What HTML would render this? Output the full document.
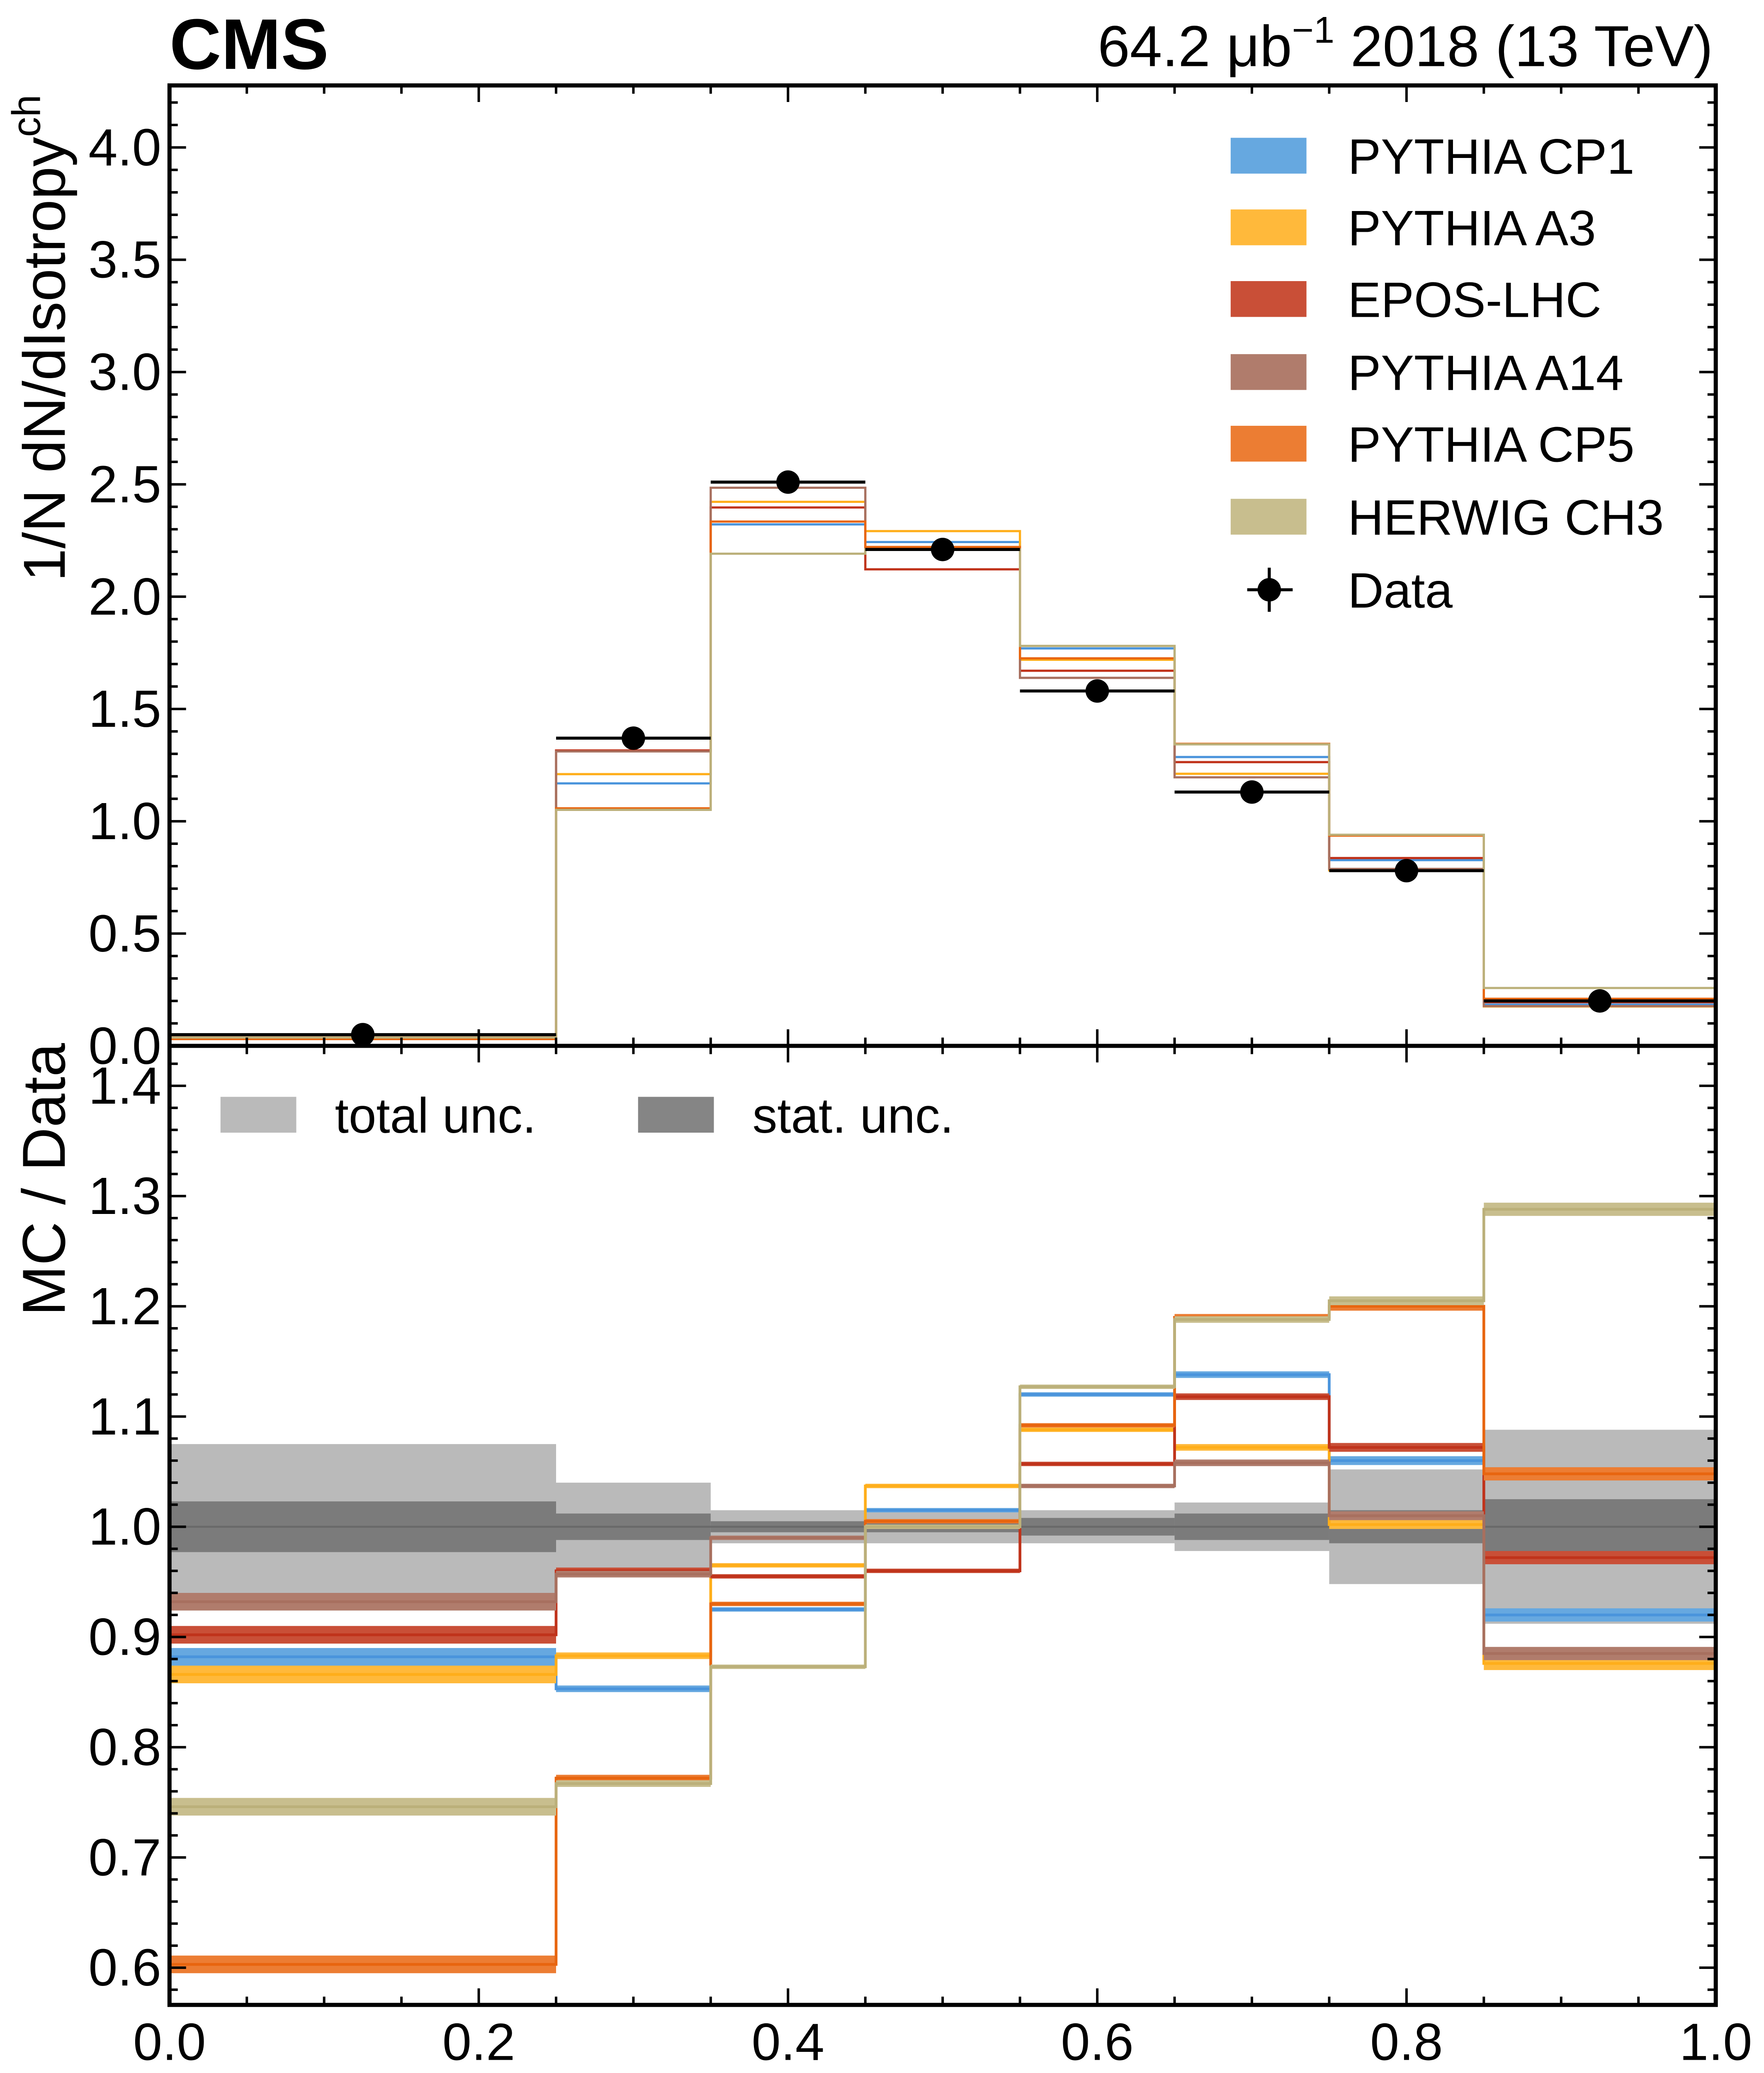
<!DOCTYPE html>
<html><head><meta charset="utf-8"><style>
html,body{margin:0;padding:0;background:#fff;overflow:hidden;width:4254px;height:5198px}
svg{display:block}
text{font-family:"Liberation Sans","DejaVu Sans",sans-serif;fill:#000}
</style></head><body>
<svg id="chart" width="4254" height="5198" xmlns="http://www.w3.org/2000/svg">
<g id="main" transform="scale(3.32344,3.32353)"></g>
</svg>
<script>
const binEdges=[0,0.25,0.35,0.45,0.55,0.65,0.75,0.85,1.0];
const dataVals=[0.05,1.37,2.51,2.21,1.58,1.13,0.78,0.20];
const totUnc=[0.075,0.04,0.015,0.015,0.015,0.022,0.052,0.088];
const statUnc=[0.023,0.012,0.005,0.005,0.008,0.012,0.015,0.025];
const mcBand=[0.008,0.003,0.002,0.002,0.002,0.003,0.004,0.006];
const modelNames=["PYTHIA CP1","PYTHIA A3","EPOS-LHC","PYTHIA A14","PYTHIA CP5","HERWIG CH3"];
const modelColors=["#4a94dc","#ffae1a","#c0331b","#a8705f","#e8650f","#bbb07a"];
const bandColors=["#66a8e0","#ffb93b","#c94f37","#b07c6c","#ec7d33","#c8be8e"];
const ratioCP1=[0.882,0.853,0.925,1.015,1.12,1.138,1.06,0.92];
const ratioA3=[0.866,0.883,0.965,1.037,1.088,1.072,1.002,0.876];
const ratioEPOS=[0.902,0.96,0.955,0.96,1.057,1.118,1.072,0.972];
const ratioA14=[0.932,0.957,0.99,1.0,1.037,1.058,1.01,0.885];
const ratioCP5=[0.603,0.772,0.93,1.005,1.092,1.19,1.2,1.048];
const ratioCH3=[0.746,0.767,0.873,1.0,1.127,1.188,1.205,1.288];
const ratios=[ratioCP1,ratioA3,ratioEPOS,ratioA14,ratioCP5,ratioCH3];
const topTicks=[0.0,0.5,1.0,1.5,2.0,2.5,3.0,3.5,4.0];
const botTicks=[0.6,0.7,0.8,0.9,1.0,1.1,1.2,1.3,1.4];
const xTicks=[0.0,0.2,0.4,0.6,0.8,1.0];

const NS="http://www.w3.org/2000/svg";
const root=document.getElementById('main');
const L=123,R=1245,T=62,M=759,B=1455;
const X=v=>L+(R-L)*v;
const YT=v=>M-163*v;
const YB=v=>1108-800*(v-1);
function el(tag,attrs,parent){const e=document.createElementNS(NS,tag);for(const k in attrs)e.setAttribute(k,attrs[k]);(parent||root).appendChild(e);return e;}

const clipDefs=el('defs',{});
const c1=el('clipPath',{id:'cTop'},clipDefs);el('rect',{x:L,y:T,width:R-L,height:M-T},c1);
const c2=el('clipPath',{id:'cBot'},clipDefs);el('rect',{x:L,y:M,width:R-L,height:B-M},c2);
const gTop=el('g',{'clip-path':'url(#cTop)'});


const gBot=el('g',{'clip-path':'url(#cBot)'});



for(let i=0;i<8;i++){
  const x0=X(binEdges[i]),x1=X(binEdges[i+1]);
  const r1=el('rect',{x:x0,y:YB(1+totUnc[i]),width:x1-x0,height:YB(1-totUnc[i])-YB(1+totUnc[i]),fill:'#bababa'},gBot);
  
  
  const r2=el('rect',{x:x0,y:YB(1+statUnc[i]),width:x1-x0,height:YB(1-statUnc[i])-YB(1+statUnc[i]),fill:'#7b7b7b'},gBot);
  
  
}
el('line',{x1:L,x2:R,y1:YB(1),y2:YB(1),stroke:'#6a6a6a','stroke-width':1.5},gBot);

function stepPath(vals,Y){
  let d='';
  for(let i=0;i<8;i++){
    const x0=X(binEdges[i]),x1=X(binEdges[i+1]),y=Y(vals[i]);
    d+=(i===0?'M':'L')+x0+' '+y+' L'+x1+' '+y+' ';
  }
  return d;
}
for(let m=0;m<6;m++){
  const r=ratios[m];
  const top=r.map((v,i)=>v*dataVals[i]);
  for(let i=0;i<8;i++){
    const x0=X(binEdges[i]),x1=X(binEdges[i+1]);
    const b=el('rect',{x:x0,y:YB(r[i]+mcBand[i]),width:x1-x0,height:YB(r[i]-mcBand[i])-YB(r[i]+mcBand[i]),fill:bandColors[m]},gBot);
    
    
  }
  const p1=el('path',{d:stepPath(r,YB),fill:'none',stroke:modelColors[m],'stroke-width':2},gBot);
  
  
  const p2=el('path',{d:stepPath(top,YT),fill:'none',stroke:modelColors[m],'stroke-width':1.6},gTop);
  
  
}
for(let i=0;i<8;i++){
  const x0=X(binEdges[i]),x1=X(binEdges[i+1]);
  const xc=i===0?X(0.125):(i===7?X(0.925):(x0+x1)/2);
  const y=YT(dataVals[i]);
  el('line',{x1:x0,x2:x1,y1:y,y2:y,stroke:'#000','stroke-width':2.2},gTop);
  const c=el('circle',{cx:xc,cy:y,r:8.5,fill:'#000'},gTop);
  
  
}

el('rect',{x:L,y:T,width:R-L,height:B-T,fill:'none',stroke:'#000','stroke-width':3});
el('line',{x1:L,x2:R,y1:M,y2:M,stroke:'#000','stroke-width':3});

function tk(x1,y1,x2,y2){el('line',{x1,y1,x2,y2,stroke:'#000','stroke-width':1.8});}
for(let v=0;v<=4.25;v+=0.1){const y=YT(v);const maj=Math.abs(v*2-Math.round(v*2))<1e-6;const l=maj?12:6;tk(L,y,L+l,y);tk(R,y,R-l,y);}
for(let v=0.58;v<=1.43;v+=0.02){const y=YB(v);const maj=Math.abs(v*10-Math.round(v*10))<1e-6;const l=maj?12:6;tk(L,y,L+l,y);tk(R,y,R-l,y);}
for(let v=0;v<=1.0001;v+=0.05){const x=X(v);const maj=Math.abs(v*5-Math.round(v*5))<1e-6;const l=maj?12:6;tk(x,M,x,M-l);tk(x,T,x,T+l);tk(x,B,x,B-l);tk(x,M,x,M+l);}

topTicks.forEach(v=>{const t=el('text',{x:L-6,y:YT(v)+13,'font-size':38,'text-anchor':'end'});t.textContent=v.toFixed(1);

});
botTicks.forEach(v=>{const t=el('text',{x:L-6,y:YB(v)+13,'font-size':38,'text-anchor':'end'});t.textContent=v.toFixed(1);

});
xTicks.forEach(v=>{const t=el('text',{x:X(v),y:B+40,'font-size':38,'text-anchor':'middle'});t.textContent=v.toFixed(1);

});

function txt(name,attrs,s){const t=el('text',attrs);t.innerHTML=s;return t;}
txt('cms-label',{x:123,y:50,'font-size':52,'font-weight':'bold'},'CMS');
txt('lumi-label',{x:1243,y:48,'font-size':42,'text-anchor':'end'},'64.2 μb<tspan dy="-17" font-size="27">−1</tspan><tspan dy="17"> 2018 (13 TeV)</tspan>');
txt('y-axis-title',{transform:'translate(47,422) rotate(-90)','font-size':43,'text-anchor':'start'},'1/N dN/dIsotropy<tspan dy="-18" font-size="29">ch</tspan>');
txt('ratio-axis-title',{transform:'translate(47,955) rotate(-90)','font-size':44},'MC / Data');
txt('x-axis-title',{x:1243,y:1545,'font-size':44,'text-anchor':'end'},'Isotropy<tspan dy="-18" font-size="29">ch</tspan>');

const legY=[113,165,217,270,322,375];
modelNames.forEach((n,i)=>{
  const r=el('rect',{x:893,y:legY[i]-13,width:55,height:26,fill:bandColors[i]});
  
  
  txt('legend-entry',{x:978,y:legY[i]+13,'font-size':36},n);
});
el('line',{x1:905,x2:938,y1:428,y2:428,stroke:'#000','stroke-width':2.2});
el('line',{x1:921,x2:921,y1:412,y2:444,stroke:'#000','stroke-width':2.2});
el('circle',{cx:921,cy:428,r:8.5,fill:'#000'});
txt('legend-entry',{x:978,y:441,'font-size':36},'Data');
const lr1=el('rect',{x:160,y:796,width:55,height:26,fill:'#bababa'});


txt('legend-entry',{x:243,y:822,'font-size':36},'total unc.');
const lr2=el('rect',{x:463,y:796,width:55,height:26,fill:'#858585'});


txt('legend-entry',{x:546,y:822,'font-size':36},'stat. unc.');
</script>
</body></html>
